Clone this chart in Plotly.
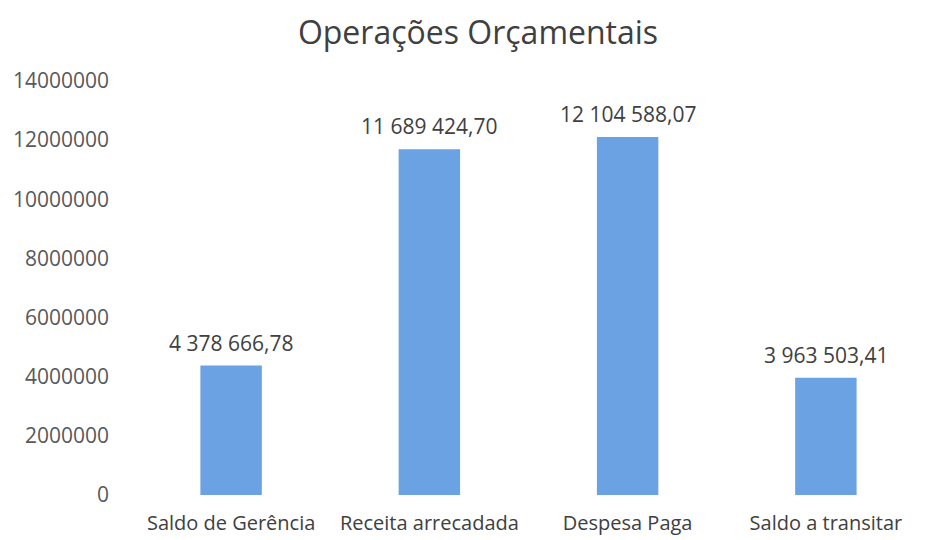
import plotly.graph_objects as go

categories = ["Saldo de Gerência", "Receita arrecadada", "Despesa Paga", "Saldo a transitar"]
values = [4378666.78, 11689424.70, 12104588.07, 3963503.41]
tick_vals = [0, 2000000, 4000000, 6000000, 8000000, 10000000, 12000000, 14000000]

def fmt(v):
    s = f"{v:,.2f}"
    ip, dp = s.split(".")
    return ip.replace(",", " ") + "," + dp

labels = [fmt(v) for v in values]

fig = go.Figure(go.Bar(
    x=categories, y=values,
    marker=dict(color="#6aa2e4", line=dict(width=0)),
    width=0.31,
))
for c, v, t in zip(categories, values, labels):
    fig.add_annotation(x=c, y=v, text=t, showarrow=False, yanchor="middle", yshift=23,
                       font=dict(size=21, color="#404040", family="Open Sans"))
fig.update_layout(
    width=940, height=540,
    margin=dict(l=124, r=23, t=73, b=53),
    paper_bgcolor="white", plot_bgcolor="white",
    title=dict(text="Operações Orçamentais", x=0.5, xanchor="center", y=0.9537, yanchor="middle",
               font=dict(size=32, color="#404040", family="Open Sans")),
    font=dict(family="Open Sans", color="#555555", size=20),
    showlegend=False,
)
fig.update_yaxes(range=[0, 14000000], tickvals=tick_vals, tickformat=".0f", automargin=False,
                 showgrid=False, zeroline=False, showline=False,
                 ticks="", ticklabelstandoff=22, tickfont=dict(size=21, color="#595959"))
fig.update_xaxes(showgrid=False, showline=False, ticks="", automargin=False,
                 ticklabelstandoff=14, tickfont=dict(size=20, color="#404040"))
fig.write_html("out.html")
